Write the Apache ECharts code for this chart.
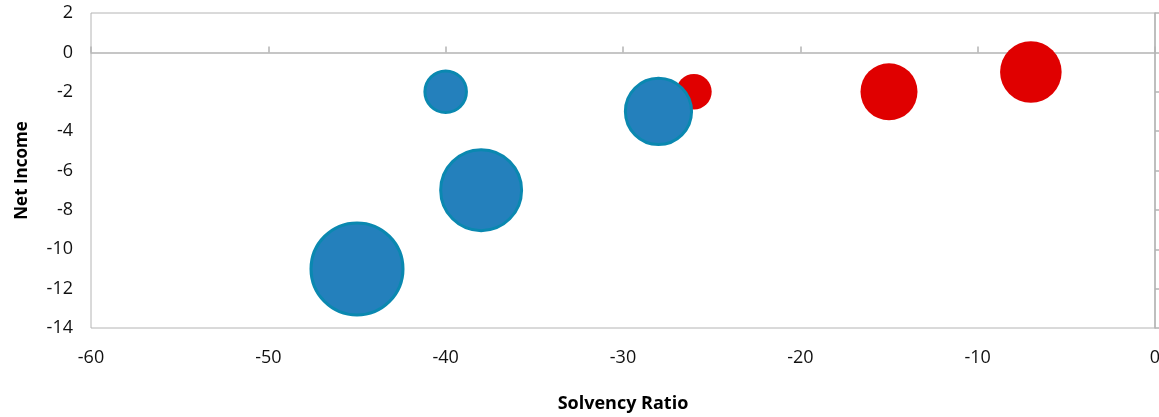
<!DOCTYPE html>
<html>
<head>
<meta charset="utf-8">
<script src="https://cdn.jsdelivr.net/npm/echarts@6/dist/echarts.min.js"></script>
<style>
  html, body { margin: 0; padding: 0; background: #ffffff; }
  #chart { width: 1159px; height: 417px; }
</style>
</head>
<body>
<div id="chart"></div>
<script>
// Bubble data: solvency ratio (x), net income (y), relative bubble size
const blueX = [-45, -38, -40, -28];
const blueY = [-11, -7, -2, -3];
const blueSize = [100, 78, 22, 53];

const redX = [-26, -15, -7];
const redY = [-2, -2, -1];
const redSize = [14, 36, 42];

// Axis ranges and tick steps
const xMin = -60, xMax = 0, xStep = 10;
const yMin = -14, yMax = 2, yStep = 2;

const xTitle = 'Solvency Ratio';
const yTitle = 'Net Income';

const FONT = '"Open Sans", "Noto Sans", sans-serif';
const GRAY = '#b4b4b4';
const MAX_RADIUS = 47.5;

function toPoints(xs, ys, sizes) {
  return xs.map((x, i) => [x, ys[i], sizes[i]]);
}
// Bubble area proportional to size
function diameter(size, border) {
  return 2 * MAX_RADIUS * Math.sqrt(size / 100) - border;
}

const chart = echarts.init(document.getElementById('chart'), null, { renderer: 'canvas' });

chart.setOption({
  animation: false,
  backgroundColor: '#ffffff',
  grid: {
    left: 91, right: 4, top: 13, bottom: 89,
    outerBoundsMode: 'none', containLabel: false,
    show: true, borderColor: GRAY, borderWidth: 1, backgroundColor: 'transparent'
  },
  xAxis: [
    {
      type: 'value', min: xMin, max: xMax, interval: xStep, position: 'bottom',
      axisLine: { show: false }, axisTick: { show: false }, splitLine: { show: false },
      axisLabel: { fontFamily: FONT, fontSize: 18, color: '#111', margin: 21 },
      name: xTitle, nameLocation: 'middle', nameGap: 67,
      nameTextStyle: { fontFamily: FONT, fontSize: 18, fontWeight: 'bold', color: '#000' }
    },
    {
      type: 'value', min: xMin, max: xMax, interval: xStep, position: 'bottom',
      axisLine: { show: true, onZero: true, onZeroAxisIndex: 0, lineStyle: { color: GRAY, width: 1.5 } },
      axisTick: { show: true, inside: true, length: 6, lineStyle: { color: GRAY, width: 1.5 } },
      axisLabel: { show: false }, splitLine: { show: false }
    }
  ],
  yAxis: [
    {
      type: 'value', min: yMin, max: yMax, interval: yStep, position: 'left',
      axisLine: { show: false }, axisTick: { show: false }, splitLine: { show: false },
      axisLabel: { fontFamily: FONT, fontSize: 18, color: '#111', margin: 18 },
      name: yTitle, nameLocation: 'middle', nameGap: 60, nameRotate: 90,
      nameTextStyle: { fontFamily: FONT, fontSize: 17, fontWeight: 'bold', color: '#000' }
    },
    {
      type: 'value', min: yMin, max: yMax, interval: yStep, position: 'right',
      axisLine: { show: true, onZero: false, lineStyle: { color: GRAY, width: 1.5 } },
      axisTick: { show: true, inside: false, length: 4, lineStyle: { color: GRAY, width: 1.5 } },
      axisLabel: { show: false }, splitLine: { show: false }
    }
  ],
  series: [
    {
      name: 'Red', type: 'scatter', xAxisIndex: 0, yAxisIndex: 0,
      data: toPoints(redX, redY, redSize),
      symbol: 'circle',
      symbolSize: d => diameter(d[2], 0),
      itemStyle: { color: '#e00000', opacity: 1 },
      emphasis: { disabled: true }
    },
    {
      name: 'Blue', type: 'scatter', xAxisIndex: 0, yAxisIndex: 0,
      data: toPoints(blueX, blueY, blueSize),
      symbol: 'circle',
      symbolSize: d => diameter(d[2], 3),
      itemStyle: { color: '#2480bc', borderColor: '#0a88b0', borderWidth: 3, opacity: 1 },
      emphasis: { disabled: true }
    }
  ]
});
</script>
</body>
</html>
